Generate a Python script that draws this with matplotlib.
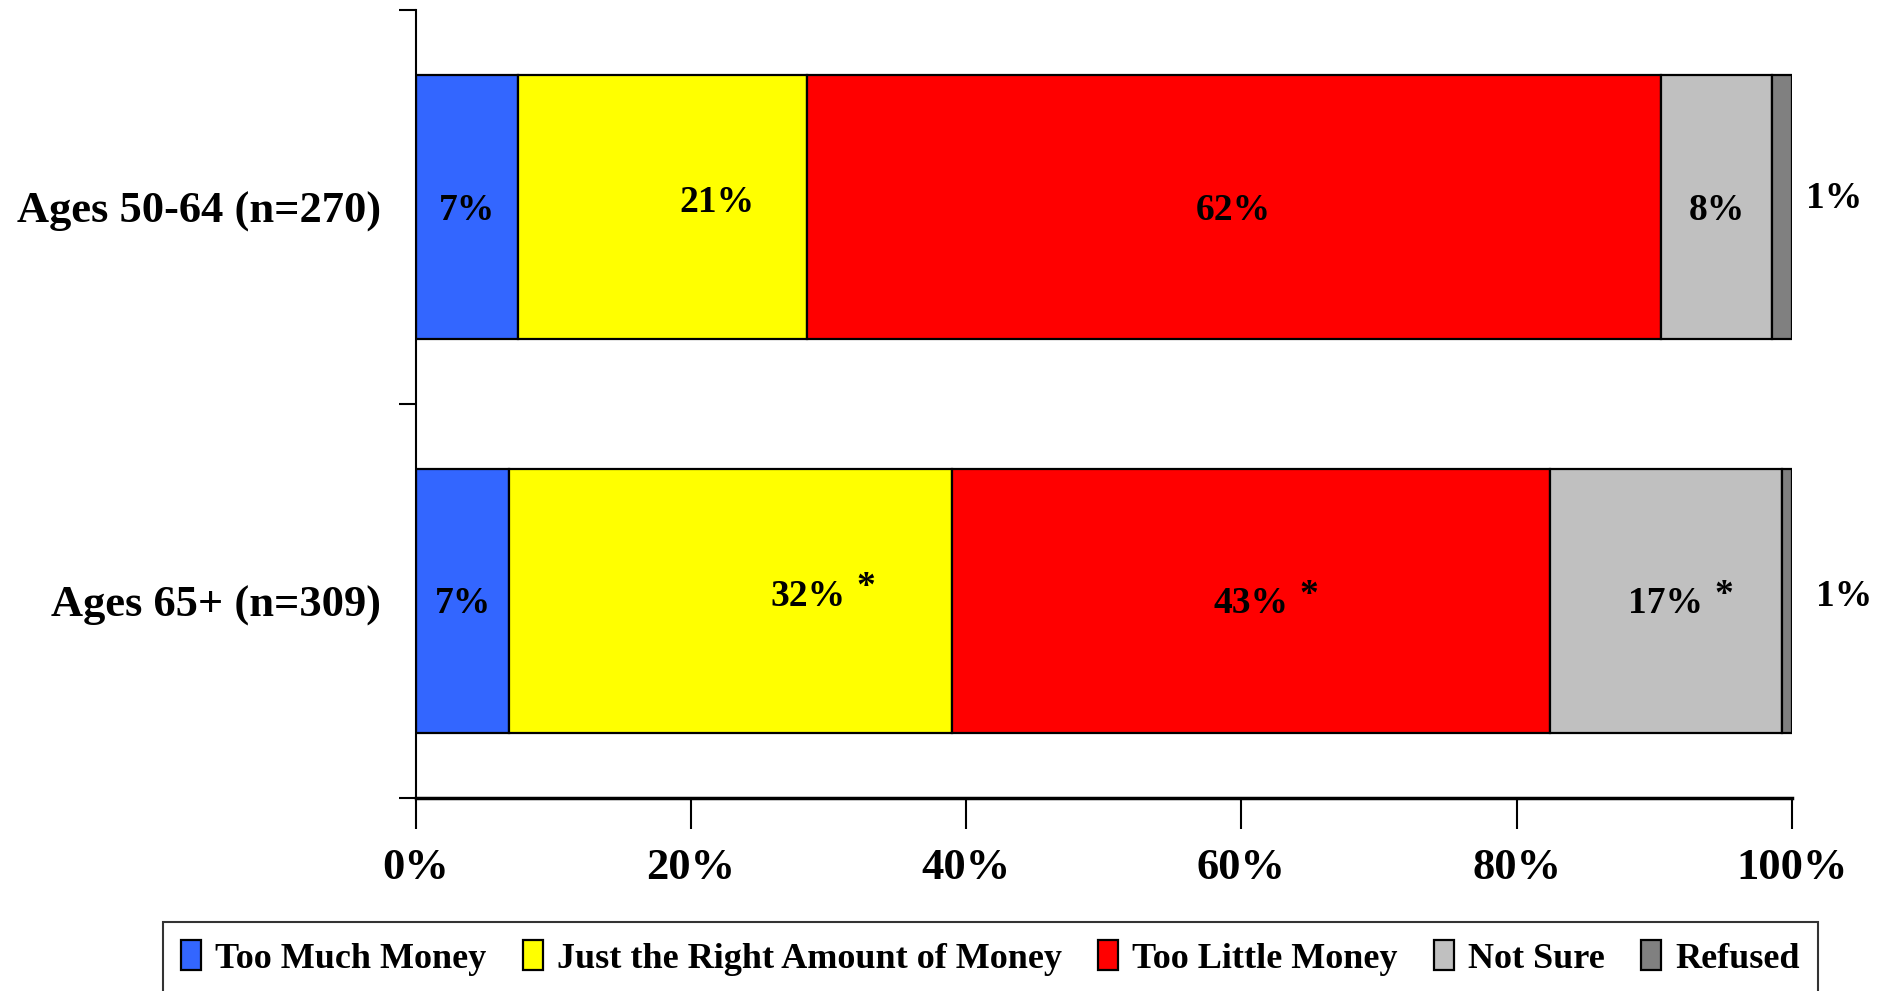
import matplotlib
matplotlib.use("Agg")
import matplotlib.pyplot as plt
import numpy as np

plt.rcParams['font.family'] = ['Liberation Serif', 'DejaVu Serif']
plt.rcParams['font.weight'] = 'bold'

categories = ["Ages 50-64 (n=270)", "Ages 65+ (n=309)"]
series = ["Too Much Money", "Just the Right Amount of Money", "Too Little Money", "Not Sure", "Refused"]
too_much = [7.4, 6.8]
just_right = [21.0, 32.2]
too_little = [62.1, 43.4]
not_sure = [8.1, 16.9]
refused = [1.4, 0.7]
label_text = [["7%", "21%", "62%", "8%", "1%"],
              ["7%", "32%", "43%", "17%", "1%"]]
significant = [[False, False, False, False, False],
               [False, True, True, True, False]]
xticks = [0, 20, 40, 60, 80, 100]
xticklabels = ["0%", "20%", "40%", "60%", "80%", "100%"]

colors = ["#3366FF", "#FFFF00", "#FF0000", "#C0C0C0", "#808080"]

fig = plt.figure(figsize=(18.9, 9.91), dpi=100)
ax = fig.add_axes([0.220, 0.195, 0.728, 0.795])

vals = np.array([too_much, just_right, too_little, not_sure, refused])
y = np.arange(len(categories))
left = np.zeros(len(categories))
bar_h = 0.67
for i, s in enumerate(series):
    ax.barh(y, vals[i], left=left, height=bar_h, color=colors[i],
            edgecolor="black", linewidth=1.6, label=s)
    for j in range(len(categories)):
        xc = left[j] + vals[i][j] / 2
        dy = 0.008
        if i == 1:
            xc = left[j] + vals[i][j] * (0.69 if j == 0 else 0.675)
            dy = -0.012
        if i == 4:
            xc = 103.1 if j == 0 else 103.8
            dy = -0.022 if j == 0 else -0.012
        ax.text(xc, y[j] + dy, label_text[j][i], ha="center", va="center",
                fontsize=27, fontweight="bold")
        if significant[j][i]:
            ax.text(xc + 4.2, y[j] + dy - 0.022, "*", ha="center", va="center",
                    fontsize=27, fontweight="bold")
    left = left + vals[i]

ax.set_xlim(0, 100)
ax.set_ylim(1.5, -0.5)
ax.set_xticks(xticks)
ax.set_xticklabels(xticklabels, fontsize=32, fontweight="bold")
ax.set_yticks([-0.5, 0.5, 1.5])
ax.set_yticklabels([])
ax.set_yticks(y, minor=True)
ax.set_yticklabels(categories, minor=True, fontsize=32, fontweight="bold")
ax.tick_params(axis="y", which="minor", length=0, pad=25)
ax.tick_params(axis="y", which="major", length=12, width=1.5, direction="out")
ax.tick_params(axis="x", length=22, width=1.5, direction="out", pad=14)
ax.spines["top"].set_visible(False)
ax.spines["right"].set_visible(False)
ax.spines["left"].set_linewidth(1.5)
ax.spines["bottom"].set_linewidth(2.5)

leg = fig.legend(loc="upper left", bbox_to_anchor=(0.0862, 0.0696), ncol=5,
                 frameon=True, fancybox=False, edgecolor="black", borderaxespad=0,
                 handlelength=0.55, handleheight=0.9, handletextpad=0.4,
                 columnspacing=1.0, borderpad=0.5, prop={"weight": "bold", "size": 26})
leg.get_frame().set_linewidth(1.5)

fig.savefig("out.png", dpi=100)
